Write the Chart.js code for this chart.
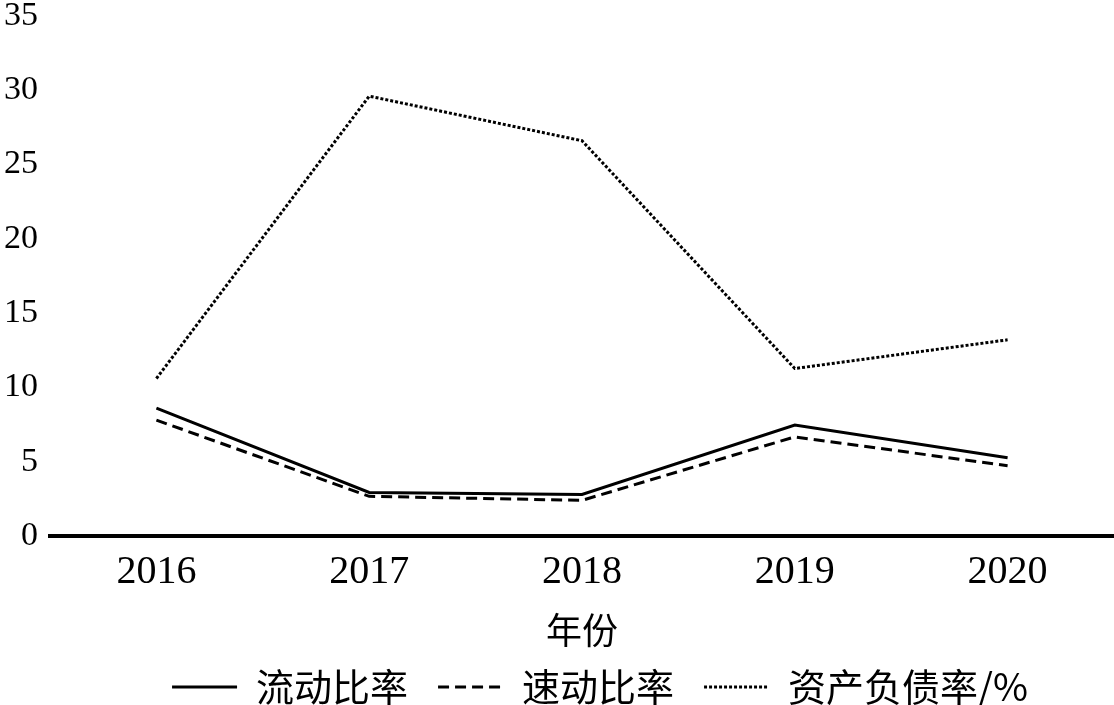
<!DOCTYPE html>
<html>
<head>
<meta charset="utf-8">
<script src="https://cdn.jsdelivr.net/npm/chart.js@4"></script>
<style>
  body { margin: 0; background: #fff; }
  #wrap { width: 1114px; height: 705px; }
</style>
</head>
<body>
<div id="wrap"><canvas id="ratioChart"></canvas></div>
<script>
const years = ['2016', '2017', '2018', '2019', '2020'];
const currentRatio = [8.6, 2.93, 2.8, 7.47, 5.27];   // 流动比率
const quickRatio = [7.8, 2.67, 2.4, 6.67, 4.73];     // 速动比率
const debtRatio = [10.6, 29.6, 26.6, 11.27, 13.2];   // 资产负债率/%
const yTicks = [0, 5, 10, 15, 20, 25, 30, 35];

const serif = "'Liberation Serif', 'Times New Roman', serif";
const cjk = "'Noto Sans CJK SC', 'Liberation Serif', sans-serif";

// legend sits a little right of the plot centre in the original
const legendShift = {
  id: 'legendShift',
  afterLayout(chart) {
    chart.legend.left += 18;
    chart.legend.right += 18;
  }
};

function drawRatioChart() {
  const ctx = document.getElementById('ratioChart').getContext('2d');
  new Chart(ctx, {
    type: 'line',
    data: {
      labels: years,
      datasets: [
        {
          label: '流动比率',
          data: currentRatio,
          borderColor: '#000',
          borderWidth: 3,
          borderDash: []
        },
        {
          label: '速动比率',
          data: quickRatio,
          borderColor: '#000',
          borderWidth: 3,
          borderDash: [11, 6]
        },
        {
          label: '资产负债率/%',
          data: debtRatio,
          borderColor: '#000',
          borderWidth: 3,
          borderDash: [3, 2]
        }
      ]
    },
    plugins: [legendShift],
    options: {
      responsive: true,
      maintainAspectRatio: false,
      animation: false,
      layout: { padding: { left: -8, right: 0, top: -8, bottom: -11 } },
      elements: {
        point: { radius: 0 },
        line: { tension: 0, fill: false }
      },
      plugins: {
        tooltip: { enabled: false },
        legend: {
          position: 'bottom',
          fullSize: false,
          labels: {
            color: '#000',
            font: { family: cjk, size: 38 },
            usePointStyle: true,
            pointStyle: 'line',
            pointStyleWidth: 65,
            padding: 30,
            // keep the dash pattern of each line in its legend sample
            generateLabels: (chart) => chart.data.datasets.map((ds, i) => ({
              text: ds.label,
              fillStyle: '#000',
              strokeStyle: ds.borderColor,
              lineWidth: ds.borderWidth,
              lineDash: ds.borderDash,
              pointStyle: 'line',
              fontColor: '#000',
              hidden: false,
              datasetIndex: i
            }))
          }
        }
      },
      scales: {
        x: {
          offset: true,
          grid: { display: false, drawTicks: false },
          border: { display: true, color: '#000', width: 4 },
          ticks: {
            color: '#000',
            padding: 16,
            font: { family: serif, size: 40, lineHeight: 1 }
          },
          title: {
            display: true,
            text: '年份',
            color: '#000',
            font: { family: cjk, size: 36, lineHeight: 1 },
            padding: { top: 4, bottom: -10 }
          }
        },
        y: {
          min: yTicks[0],
          max: yTicks[yTicks.length - 1],
          afterBuildTicks: (scale) => { scale.ticks = yTicks.map(v => ({ value: v })); },
          grid: { display: false, drawTicks: false },
          border: { display: false },
          ticks: {
            color: '#000',
            padding: 12,
            font: { family: serif, size: 34, lineHeight: 0.23 }
          }
        }
      }
    }
  });
}

drawRatioChart();
</script>
</body>
</html>
